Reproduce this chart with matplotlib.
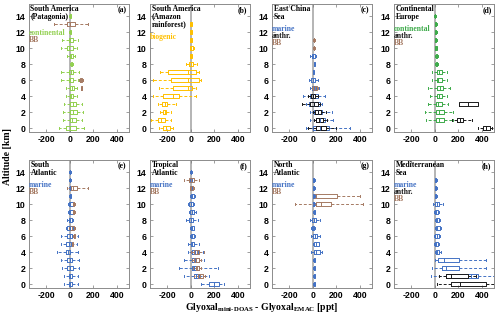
import matplotlib
matplotlib.use("Agg")
import matplotlib.pyplot as plt
import matplotlib.transforms as mtransforms

plt.rcParams['axes.unicode_minus'] = False
plt.rcParams['mathtext.fontset'] = 'custom'
plt.rcParams['mathtext.rm'] = 'Liberation Serif:bold'
plt.rcParams['mathtext.bf'] = 'Liberation Serif:bold'
plt.rcParams['mathtext.it'] = 'Liberation Serif:bold'

# ---------------- data: (altitude km, whisker low, q1, median, q3, whisker high) [ppt]
a_continental = [(14, -3, 0, 3, 6, 9), (12, -3, 0, 3, 6, 9), (11, -62, -11, 3, 28, 65),
                 (10, -76, -20, -6, 23, 57), (9, -20, 3, 14, 28, 45), (8, 5, 10, 17, 22, 30),
                 (7, -76, -6, 6, 31, 79), (6, -76, -11, 3, 28, 65), (5, -34, 0, 17, 37, 57),
                 (4, -34, 3, 12, 28, 57), (3, -50, 5, 25, 55, 105), (2, -60, 3, 25, 57, 110),
                 (1, -60, 0, 20, 50, 105), (0, -95, -34, 3, 51, 120)]
a_bb = [(13, -130, -28, 3, 45, 150), (6, 80, 88, 95, 100, 108), (5, 95, 98, 100, 102, 105)]

b_biogenic = [(13, -10, -8, 0, 8, 12), (12, -10, -8, 0, 8, 12), (11, -10, -6, 2, 8, 14),
              (10, -8, -6, 5, 20, 25), (9, -10, -6, 3, 10, 14), (8, -42, -14, 0, 20, 48),
              (7, -260, -190, -28, 42, 65), (6, -320, -170, -23, 71, 85),
              (5, -270, -150, -28, 14, 42), (4, -320, -232, -150, -99, 42),
              (3, -275, -240, -221, -198, -127), (2, -258, -235, -221, -207, -170),
              (1, -340, -280, -255, -221, -170), (0, -270, -232, -210, -175, -150)]

c_marine = [(9, -20, -5, 5, 15, 30), (8, 8, 11, 14, 17, 20), (7, 0, 3, 5, 8, 10),
            (6, -34, -14, 3, 20, 42), (5, -28, -10, 10, 28, 50), (4, -85, -23, 5, 42, 99),
            (3, -60, -34, 10, 57, 75), (2, -23, 14, 40, 79, 164), (1, -23, 23, 60, 99, 170),
            (0, -57, 0, 60, 136, 311)]
c_anthr = [(4, -40, -14, 5, 15, 40), (3, -93, -20, 10, 40, 60), (2, 0, 20, 45, 70, 110),
           (1, 10, 30, 55, 85, 120), (0, -40, 30, 70, 115, 200)]
c_bb = [(11, 5, 7, 10, 13, 16), (10, 5, 7, 10, 13, 16), (5, -5, 5, 20, 35, 45)]

d_continental = [(14, -5, -2, 0, 3, 6), (13, 0, 4, 8, 12, 16), (12, 0, 4, 8, 12, 16),
                 (11, 0, 4, 8, 12, 16), (10, 0, 5, 10, 15, 20), (9, 5, 10, 15, 20, 30),
                 (8, 0, 8, 15, 22, 30), (7, -28, 20, 35, 57, 99), (6, -28, 20, 30, 57, 99),
                 (5, -57, 20, 40, 65, 127), (4, -42, 20, 35, 57, 99), (3, -57, 8, 30, 57, 113),
                 (2, -85, 8, 35, 76, 156), (1, -71, 14, 35, 76, 156)]
d_anthr = [(3, 207, 207, 283, 368, 368), (1, 141, 190, 212, 240, 311),
           (0, 362, 410, 435, 467, 480)]

e_marine = [(14, -5, -2, 0, 3, 6), (13, -5, -2, 0, 3, 6), (12, -5, -2, 0, 3, 6),
            (11, -3, 0, 3, 6, 9), (10, -15, -6, 5, 23, 30), (9, -15, -6, 5, 23, 30),
            (8, -20, -11, 3, 17, 25), (7, -30, -20, 3, 28, 40), (6, -76, -20, 0, 17, 65),
            (5, -76, -34, -10, 8, 57), (4, -105, -34, -12, 3, 65), (3, -76, -20, 0, 17, 79),
            (2, -62, -20, 5, 28, 79), (1, -48, -6, 5, 17, 65), (0, -48, -6, 5, 17, 65)]
e_bb = [(12, -20, 8, 28, 57, 150), (10, 25, 28, 32, 36, 40), (9, 25, 28, 32, 36, 40),
        (7, -5, 5, 20, 37, 45), (6, 30, 33, 37, 40, 45), (5, 15, 18, 22, 26, 30)]

f_marine = [(14, -5, -2, 0, 3, 6), (13, -5, -2, 0, 3, 6), (12, -5, -2, 2, 6, 9),
            (11, -5, 0, 10, 28, 35), (10, -20, -14, 0, 20, 28), (9, -15, -6, 10, 28, 40),
            (8, -42, -14, 0, 20, 57), (7, -5, 0, 10, 23, 30), (6, -5, 0, 12, 28, 35),
            (5, -28, 0, 12, 28, 71), (4, -20, 14, 35, 57, 99), (3, -57, 14, 35, 65, 113),
            (2, -99, 8, 30, 65, 226), (1, -57, 23, 45, 71, 156), (0, 85, 156, 192, 235, 283)]
f_bb = [(13, -57, -14, 5, 28, 71), (12, -10, -5, 5, 15, 25), (4, 0, 28, 50, 71, 113),
        (3, 10, 28, 45, 71, 90), (2, 20, 42, 55, 71, 90), (1, 30, 57, 75, 99, 120)]

g_marine = [(13, 0, 5, 8, 11, 15), (12, 0, 5, 8, 11, 15), (11, 0, 5, 8, 11, 15),
            (10, 0, 5, 8, 11, 15), (9, 5, 10, 14, 18, 22), (8, -28, -6, 10, 28, 57),
            (7, -15, -6, 0, 14, 20), (6, -14, 0, 15, 37, 57), (5, 0, 8, 25, 48, 55),
            (4, -14, 14, 30, 57, 79), (3, 5, 10, 14, 18, 22), (2, 5, 10, 14, 18, 22),
            (1, 5, 10, 14, 18, 22), (0, 5, 10, 14, 18, 22)]
g_bb = [(11, 8, 8, 30, 204, 396), (10, -147, 23, 71, 156, 424)]

h_marine = [(13, 0, 5, 8, 11, 15), (12, 0, 5, 8, 11, 15), (11, 0, 5, 8, 11, 15),
            (10, -14, 0, 15, 37, 71), (9, -5, 0, 10, 28, 35), (8, 0, 8, 15, 37, 45),
            (7, 0, 8, 20, 42, 50), (6, -5, 3, 15, 37, 45), (5, -5, 0, 10, 28, 35),
            (4, 0, 8, 20, 37, 50), (3, 0, 31, 79, 207, 433), (2, -28, 59, 93, 207, 433),
            (1, -34, 93, 306, 362, 500)]
h_anthr = [(1, 37, 93, 136, 277, 348), (0, 17, 136, 215, 433, 500)]

panel_titles = ['South America\n(Patagonia)', 'South America\n(Amazon\nrainforest)',
                'East China\nSea', 'Continental\nEurope', 'South\nAtlantic',
                'Tropical\nAtlantic', 'North\nAtlantic', 'Mediterranean\nSea']
panel_letters = ['(a)', '(b)', '(c)', '(d)', '(e)', '(f)', '(g)', '(h)']
x_ticks = [-200, 0, 200, 400]
y_ticks = [0, 2, 4, 6, 8, 10, 12, 14]

C_MARINE = '#4472C4'
C_BB = '#A57A63'
C_ANTHR = '#1A1A1A'
C_CONT_A = '#92D050'
C_BIO = '#FFC000'
C_CONT_D = '#3DAA4A'

panels = [
    ([(a_continental, C_CONT_A), (a_bb, C_BB)],
     [('continental', C_CONT_A, 11.9), ('BB', C_BB, 11.0)]),
    ([(b_biogenic, C_BIO)], [('biogenic', C_BIO, 11.4)]),
    ([(c_marine, C_MARINE), (c_anthr, C_ANTHR), (c_bb, C_BB)],
     [('marine', C_MARINE, 12.4), ('anthr.', C_ANTHR, 11.5), ('BB', C_BB, 10.6)]),
    ([(d_continental, C_CONT_D), (d_anthr, C_ANTHR)],
     [('continental', C_CONT_D, 12.4), ('anthr.', C_ANTHR, 11.5), ('BB', C_BB, 10.6)]),
    ([(e_marine, C_MARINE), (e_bb, C_BB)],
     [('marine', C_MARINE, 12.4), ('BB', C_BB, 11.5)]),
    ([(f_marine, C_MARINE), (f_bb, C_BB)],
     [('marine', C_MARINE, 12.4), ('BB', C_BB, 11.5)]),
    ([(g_marine, C_MARINE), (g_bb, C_BB)],
     [('marine', C_MARINE, 12.4), ('BB', C_BB, 11.5)]),
    ([(h_marine, C_MARINE), (h_anthr, C_ANTHR)],
     [('marine', C_MARINE, 12.4), ('anthr.', C_ANTHR, 11.5), ('BB', C_BB, 10.6)]),
]

W, H = 500, 321
fig = plt.figure(figsize=(5.0, 3.21), dpi=100)

col_left = [29, 150, 272, 394]
row_top = [4, 160]
ax_w, ax_h = 100, 128

serif = 'Liberation Serif'
sans = 'Liberation Sans'

for i, (series, labels) in enumerate(panels):
    r, c = divmod(i, 4)
    l = col_left[c]
    t = row_top[r]
    ax = fig.add_axes([l / W, 1 - (t + ax_h) / H, ax_w / W, ax_h / H])
    ax.set_xlim(-345, 500)
    ax.set_ylim(-0.5, 15.5)
    ax.axvline(0, color='#A8A8A8', lw=1.2, zorder=1)
    for data, col in series:
        stats = [dict(whislo=d[1], q1=d[2], med=d[3], q3=d[4], whishi=d[5], fliers=[])
                 for d in data]
        pos = [d[0] for d in data]
        ax.bxp(stats, positions=pos, widths=0.6, orientation='horizontal',
               showfliers=False, patch_artist=False, manage_ticks=False,
               capwidths=0.3,
               boxprops=dict(color=col, lw=0.7),
               medianprops=dict(color=col, lw=0.7),
               whiskerprops=dict(color=col, lw=0.7, linestyle=(0, (3, 2))),
               capprops=dict(color=col, lw=0.7))
    ax.set_xticks(x_ticks)
    ax.set_yticks(y_ticks)
    ax.tick_params(direction='in', length=2, width=0.5, colors='#777777',
                   labelcolor='black', labelsize=6.3, pad=2.5, top=True, right=True)
    for lab in ax.get_xticklabels() + ax.get_yticklabels():
        lab.set_fontfamily(sans)
        lab.set_fontweight('bold')
    for sp in ax.spines.values():
        sp.set_color('#8C8C8C')
        sp.set_linewidth(0.7)
    ax.text(0.015, 0.995, panel_titles[i], transform=ax.transAxes, ha='left', va='top',
            fontsize=5.5, fontfamily=serif, fontweight='bold', linespacing=1.0)
    ax.text(0.975, 0.985, panel_letters[i], transform=ax.transAxes, ha='right', va='top',
            fontsize=5.5, fontfamily=serif, fontweight='bold')
    trans = mtransforms.blended_transform_factory(ax.transAxes, ax.transData)
    for txt, col, yv in labels:
        ax.text(0.0, yv, txt, transform=trans, ha='left', va='center', color=col,
                fontsize=5.5, fontfamily=serif, fontweight='bold')

fig.text(8 / W, 1 - 157 / H, 'Altitude [km]', rotation=90, ha='center', va='center',
         fontsize=7, fontfamily=serif, fontweight='bold')
fig.text(262 / W, 1 - 310 / H,
         r'Glyoxal$_{\mathrm{mini\text{-}DOAS}}$ - Glyoxal$_{\mathrm{EMAC}}$ [ppt]',
         ha='center', va='baseline', fontsize=7, fontfamily=serif, fontweight='bold')

fig.savefig('out.png', dpi=100)
